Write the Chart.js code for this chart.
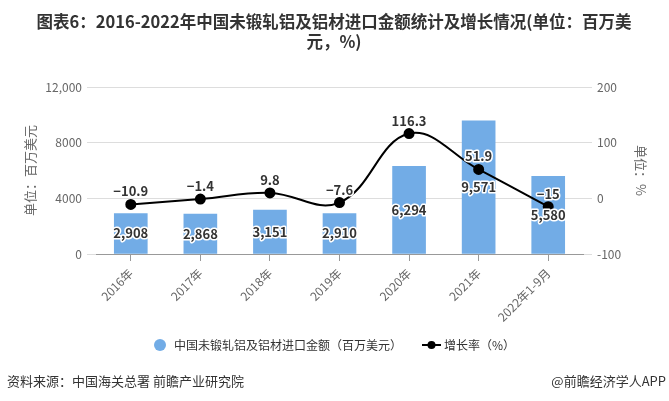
<!DOCTYPE html>
<html>
<head>
<meta charset="utf-8">
<script src="https://cdn.jsdelivr.net/npm/chart.js@4"></script>
<style>
  html, body { margin: 0; padding: 0; background: #fff; }
  canvas { display: block; }
</style>
</head>
<body>
<canvas id="importChart" width="669" height="401"></canvas>
<script>
const categories = ['2016年', '2017年', '2018年', '2019年', '2020年', '2021年', '2022年1-9月'];
const importValues = [2908, 2868, 3151, 2910, 6294, 9571, 5580];
const growthRates = [-10.9, -1.4, 9.8, -7.6, 116.3, 51.9, -15];
const leftTicks = ['0', '4000', '8000', '12,000'];
const rightTicks = ['-100', '0', '100', '200'];

const titleLines = ['图表6：2016-2022年中国未锻轧铝及铝材进口金额统计及增长情况(单位：百万美', '元，%)'];
const barLabel = '中国未锻轧铝及铝材进口金额（百万美元）';
const lineLabel = '增长率（%）';
const sourceText = '资料来源：中国海关总署 前瞻产业研究院';
const brandText = '@前瞻经济学人APP';

const FONT = '"Noto Sans CJK SC", "Noto Sans", sans-serif';
const barColor = '#72ACE6';

const fmt = v => v.toLocaleString('en-US');

// title, legend, footer and value labels
const decorations = {
    id: 'decorations',
    afterDraw(chart) {
        const ctx = chart.ctx;
        ctx.save();
        ctx.textBaseline = 'middle';

        ctx.fillStyle = '#333';
        ctx.textAlign = 'center';
        ctx.font = 'bold 16.5px ' + FONT;
        ctx.fillText(titleLines[0], 334, 22);
        ctx.fillText(titleLines[1], 334, 42);

        // legend
        ctx.font = '12px ' + FONT;
        ctx.textAlign = 'left';
        ctx.fillStyle = barColor;
        ctx.beginPath();
        ctx.arc(160, 345, 6, 0, Math.PI * 2);
        ctx.fill();
        ctx.fillStyle = '#333';
        ctx.fillText(barLabel, 174, 345);
        ctx.strokeStyle = '#000';
        ctx.lineWidth = 2;
        ctx.beginPath();
        ctx.moveTo(422, 345);
        ctx.lineTo(441, 345);
        ctx.stroke();
        ctx.fillStyle = '#000';
        ctx.beginPath();
        ctx.arc(431.5, 345, 4, 0, Math.PI * 2);
        ctx.fill();
        ctx.fillStyle = '#333';
        ctx.fillText(lineLabel, 444, 345);

        // footer
        ctx.font = '13px ' + FONT;
        ctx.fillText(sourceText, 7, 381);
        ctx.textAlign = 'right';
        ctx.fillText(brandText, 666, 381);

        // value labels
        ctx.textAlign = 'center';
        ctx.font = 'bold 13px ' + FONT;
        ctx.lineJoin = 'round';
        const bars = chart.getDatasetMeta(0).data;
        bars.forEach((bar, i) => {
            const y = (bar.y + bar.base) / 2;
            ctx.strokeStyle = '#fff';
            ctx.lineWidth = 3;
            ctx.strokeText(fmt(importValues[i]), bar.x, y);
            ctx.fillStyle = '#333';
            ctx.fillText(fmt(importValues[i]), bar.x, y);
        });
        const pts = chart.getDatasetMeta(1).data;
        pts.forEach((pt, i) => {
            const txt = growthRates[i] < 0 ? '−' + Math.abs(growthRates[i]) : String(growthRates[i]);
            ctx.strokeStyle = '#fff';
            ctx.lineWidth = 3;
            ctx.strokeText(txt, pt.x, pt.y - 13);
            ctx.fillStyle = '#333';
            ctx.fillText(txt, pt.x, pt.y - 13);
        });
        ctx.restore();
    }
};

new Chart(document.getElementById('importChart').getContext('2d'), {
    data: {
        labels: categories,
        datasets: [{
            type: 'bar',
            label: barLabel,
            data: importValues,
            backgroundColor: barColor,
            yAxisID: 'y',
            barThickness: 33,
            order: 2
        }, {
            type: 'line',
            label: lineLabel,
            data: growthRates,
            borderColor: '#000',
            backgroundColor: '#000',
            borderWidth: 2,
            pointRadius: 4.5,
            pointBackgroundColor: '#000',
            tension: 0.4,
            yAxisID: 'y1',
            order: 1
        }]
    },
    options: {
        responsive: false,
        animation: false,
        layout: { padding: { top: 87, left: 0, right: 0, bottom: 0 } },
        plugins: {
            legend: { display: false },
            title: { display: false },
            tooltip: { enabled: false }
        },
        scales: {
            x: {
                afterFit: s => { s.height = 147; },
                grid: { drawOnChartArea: false, offset: false, tickLength: 7, color: '#999' },
                border: { color: '#999' },
                ticks: {
                    color: '#666',
                    font: { size: 12, family: FONT },
                    maxRotation: 45,
                    minRotation: 45,
                    padding: 5
                }
            },
            y: {
                position: 'left',
                min: 0,
                max: 12000,
                afterFit: s => { s.width = 96; },
                ticks: {
                    stepSize: 4000,
                    color: '#666',
                    font: { size: 12, family: FONT },
                    padding: 5,
                    callback: (v, i) => leftTicks[i]
                },
                grid: { color: '#ddd', tickLength: 9 },
                border: { display: false },
                title: {
                    display: true,
                    text: '单位：百万美元',
                    color: '#666',
                    font: { size: 13, family: FONT },
                    padding: { top: 22, bottom: 0 }
                }
            },
            y1: {
                position: 'right',
                min: -100,
                max: 200,
                afterFit: s => { s.width = 86; },
                ticks: {
                    stepSize: 100,
                    color: '#666',
                    font: { size: 12, family: FONT },
                    padding: 5,
                    callback: (v, i) => rightTicks[i]
                },
                grid: { drawOnChartArea: false, color: '#ddd', tickLength: 9 },
                border: { display: false },
                title: {
                    display: true,
                    text: '单位：%',
                    color: '#666',
                    font: { size: 13, family: FONT },
                    padding: { top: 20, bottom: 0 }
                }
            }
        }
    },
    plugins: [decorations]
});
</script>
</body>
</html>
